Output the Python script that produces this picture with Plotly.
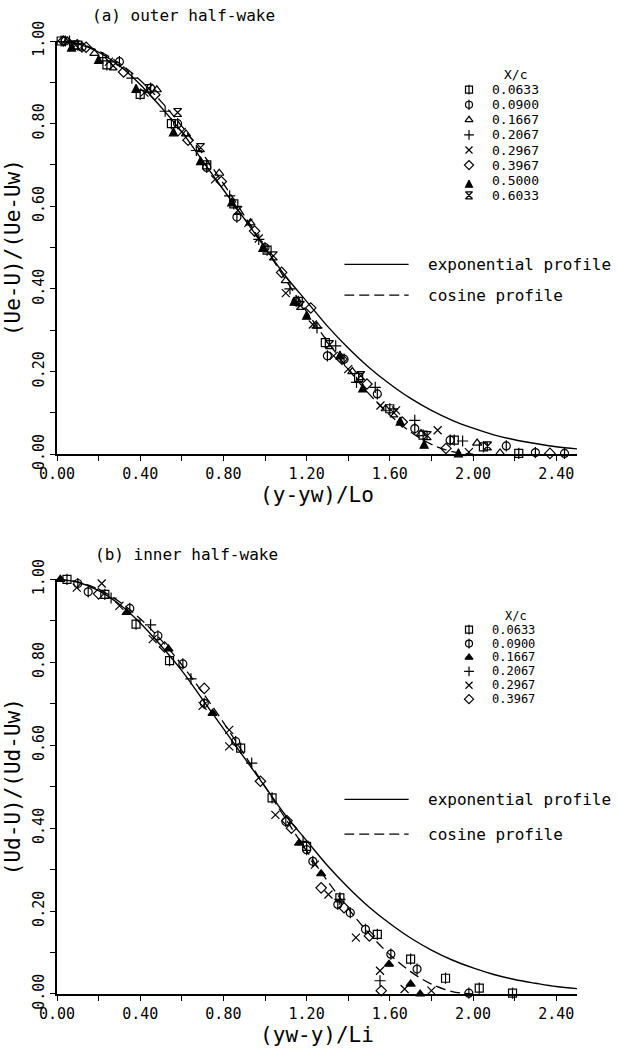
import plotly.graph_objects as go

# ---------------- data ----------------
# model profiles
ETA_EXP = [0.0, 0.1, 0.2, 0.3, 0.4, 0.5, 0.6, 0.7, 0.8, 0.9, 1.0, 1.1, 1.2, 1.3,
           1.4, 1.5, 1.6, 1.7, 1.8, 1.9, 2.0, 2.1, 2.2, 2.3, 2.4, 2.5]
EXP_PROFILE = [1.00, 0.993, 0.973, 0.94, 0.895, 0.84, 0.78, 0.71, 0.64, 0.57, 0.50,
               0.43, 0.37, 0.31, 0.257, 0.21, 0.17, 0.135, 0.106, 0.082, 0.063,
               0.047, 0.035, 0.026, 0.018, 0.013]
ETA_COS = [0.0, 0.1, 0.2, 0.3, 0.4, 0.5, 0.6, 0.7, 0.8, 0.9, 1.0, 1.1, 1.2, 1.3,
           1.4, 1.5, 1.6, 1.7, 1.8, 1.9, 2.0]
COS_PROFILE = [1.0, 0.994, 0.976, 0.946, 0.905, 0.854, 0.794, 0.727, 0.655, 0.578,
               0.50, 0.422, 0.345, 0.273, 0.206, 0.146, 0.095, 0.054, 0.024, 0.006, 0.0]

# (a) outer half-wake
A_LABELS = ["0.0633", "0.0900", "0.1667", "0.2067", "0.2967", "0.3967", "0.5000", "0.6033"]
A_0633_X = [0.02, 0.10, 0.24, 0.40, 0.55, 0.72, 0.85, 1.01, 1.16, 1.29, 1.45, 1.60, 1.76, 1.91, 2.05, 2.22]
A_0633_Y = [1.00, 0.99, 0.942, 0.871, 0.80, 0.70, 0.606, 0.494, 0.37, 0.27, 0.186, 0.11, 0.046, 0.034, 0.018, 0.002]
A_0900_X = [0.04, 0.12, 0.30, 0.45, 0.58, 0.72, 0.865, 1.00, 1.15, 1.30, 1.38, 1.54, 1.72, 1.89, 2.16, 2.30, 2.44]
A_0900_Y = [1.0, 0.985, 0.95, 0.886, 0.80, 0.694, 0.574, 0.50, 0.37, 0.238, 0.23, 0.146, 0.062, 0.034, 0.02, 0.004, 0.002]
A_1667_X = [0.05, 0.18, 0.48, 0.62, 0.78, 0.93, 1.10, 1.25, 1.42, 1.58, 1.75, 2.02, 2.13]
A_1667_Y = [1.0, 0.97, 0.882, 0.775, 0.68, 0.56, 0.42, 0.31, 0.20, 0.11, 0.05, 0.027, 0.003]
A_2067_X = [0.06, 0.22, 0.36, 0.52, 0.67, 0.83, 0.97, 1.12, 1.25, 1.34, 1.44, 1.53, 1.72, 1.95]
A_2067_Y = [1.0, 0.96, 0.91, 0.83, 0.735, 0.625, 0.52, 0.40, 0.306, 0.262, 0.174, 0.162, 0.082, 0.032]
A_2967_X = [0.08, 0.25, 0.42, 0.60, 0.76, 0.92, 0.97, 1.10, 1.23, 1.33, 1.40, 1.555, 1.63, 1.83, 1.98]
A_2967_Y = [0.995, 0.95, 0.875, 0.78, 0.665, 0.56, 0.522, 0.39, 0.314, 0.238, 0.206, 0.118, 0.106, 0.058, 0.005]
A_3967_X = [0.03, 0.14, 0.32, 0.47, 0.63, 0.79, 0.95, 1.08, 1.22, 1.37, 1.49, 1.66, 1.87, 2.37]
A_3967_Y = [1.0, 0.985, 0.925, 0.87, 0.76, 0.66, 0.54, 0.44, 0.354, 0.23, 0.17, 0.078, 0.014, 0.002]
A_5000_X = [0.07, 0.20, 0.38, 0.56, 0.69, 0.84, 0.99, 1.14, 1.20, 1.36, 1.47, 1.65, 1.765, 1.93]
A_5000_Y = [0.995, 0.965, 0.895, 0.79, 0.72, 0.62, 0.51, 0.38, 0.346, 0.25, 0.17, 0.09, 0.034, 0.013]
A_6033_X = [0.09, 0.27, 0.44, 0.58, 0.69, 0.87, 1.04, 1.17, 1.31, 1.46, 1.62, 1.78, 2.07]
A_6033_Y = [0.99, 0.94, 0.885, 0.827, 0.742, 0.59, 0.48, 0.36, 0.265, 0.19, 0.10, 0.045, 0.02]

# (b) inner half-wake
B_LABELS = ["0.0633", "0.0900", "0.1667", "0.2067", "0.2967", "0.3967"]
B_0633_X = [0.048, 0.23, 0.38, 0.541, 0.883, 1.034, 1.20, 1.36, 1.54, 1.70, 1.868, 2.03, 2.19]
B_0633_Y = [1.0, 0.964, 0.892, 0.804, 0.593, 0.473, 0.356, 0.232, 0.144, 0.084, 0.038, 0.014, 0.002]
B_0900_X = [0.10, 0.15, 0.35, 0.485, 0.605, 0.708, 0.859, 1.10, 1.20, 1.23, 1.35, 1.41, 1.483, 1.605, 1.731, 1.98]
B_0900_Y = [0.99, 0.97, 0.93, 0.864, 0.796, 0.701, 0.609, 0.416, 0.348, 0.32, 0.216, 0.196, 0.156, 0.096, 0.06, 0.002]
B_1667_X = [0.016, 0.335, 0.536, 0.748, 1.164, 1.27, 1.596, 1.70, 1.746]
B_1667_Y = [1.0, 0.92, 0.832, 0.677, 0.364, 0.29, 0.072, 0.024, 0.0]
B_2067_X = [0.26, 0.45, 0.644, 0.936, 1.183, 1.36, 1.553]
B_2067_Y = [0.955, 0.89, 0.76, 0.557, 0.368, 0.228, 0.032]
B_2967_X = [0.095, 0.215, 0.30, 0.46, 0.70, 0.828, 0.828, 1.05, 1.24, 1.305, 1.437, 1.553, 1.671, 1.80]
B_2967_Y = [0.98, 0.99, 0.936, 0.856, 0.695, 0.637, 0.597, 0.432, 0.312, 0.24, 0.136, 0.056, 0.012, 0.008]
B_3967_X = [0.20, 0.517, 0.708, 0.978, 1.106, 1.127, 1.27, 1.38, 1.502, 1.559]
B_3967_Y = [0.965, 0.837, 0.737, 0.513, 0.418, 0.40, 0.256, 0.208, 0.14, 0.008]

X_TICKS = [0.0, 0.4, 0.8, 1.2, 1.6, 2.0, 2.4]
Y_TICKS = [0.0, 0.2, 0.4, 0.6, 0.8, 1.0]
PROFILE_NAMES = ["exponential profile", "cosine profile"]

# ---------------- styling ----------------
MONO = "DejaVu Sans Mono"
BLACK = "black"

A_SYMBOLS = [["square-open", "line-ns-open"], ["circle-open", "line-ns-open"],
             ["triangle-up-open"], ["cross-thin-open"], ["x-thin-open"],
             ["diamond-open"], ["arrow-up"], ["hourglass-open"]]
B_SYMBOLS = [["square-open", "line-ns-open"], ["circle-open", "line-ns-open"],
             ["triangle-up"], ["cross-thin-open"], ["x-thin-open"], ["diamond-open"]]

A_DATA = [(A_0633_X, A_0633_Y), (A_0900_X, A_0900_Y), (A_1667_X, A_1667_Y),
          (A_2067_X, A_2067_Y), (A_2967_X, A_2967_Y), (A_3967_X, A_3967_Y),
          (A_5000_X, A_5000_Y), (A_6033_X, A_6033_Y)]
B_DATA = [(B_0633_X, B_0633_Y), (B_0900_X, B_0900_Y), (B_1667_X, B_1667_Y),
          (B_2067_X, B_2067_Y), (B_2967_X, B_2967_Y), (B_3967_X, B_3967_Y)]

fig = go.Figure()


def marker(sym, size=8):
    return dict(symbol=sym, size=size, color=BLACK,
                line=dict(color=BLACK, width=1.2))


def add_panel(xa, ya, data, symbols):
    # model curves
    fig.add_trace(go.Scatter(x=ETA_EXP, y=EXP_PROFILE, mode="lines",
                             line=dict(color=BLACK, width=1.4, shape="spline"),
                             xaxis=xa, yaxis=ya, showlegend=False, cliponaxis=False))
    fig.add_trace(go.Scatter(x=ETA_COS, y=COS_PROFILE, mode="lines",
                             line=dict(color=BLACK, width=1.3, dash="10px,5px", shape="spline"),
                             xaxis=xa, yaxis=ya, showlegend=False, cliponaxis=False))
    for (xs, ys), syms in zip(data, symbols):
        for s in syms:
            fig.add_trace(go.Scatter(x=xs, y=ys, mode="markers", marker=marker(s),
                                     xaxis=xa, yaxis=ya, showlegend=False,
                                     cliponaxis=False))


add_panel("x", "y", A_DATA, A_SYMBOLS)
add_panel("x2", "y2", B_DATA, B_SYMBOLS)


def add_symbol_legend(xa, ya, labels, symbols, fsize):
    rows = list(range(len(labels)))
    for i, syms in enumerate(symbols):
        for s in syms:
            fig.add_trace(go.Scatter(x=[0.08], y=[rows[i]], mode="markers",
                                     marker=marker(s, 7), xaxis=xa, yaxis=ya,
                                     showlegend=False, cliponaxis=False))
    for i, lab in enumerate(labels):
        fig.add_annotation(x=0.30, y=rows[i], xref=xa, yref=ya, text=lab,
                           showarrow=False, xanchor="left", yanchor="middle",
                           borderpad=0,
                           font=dict(family=MONO, size=fsize, color=BLACK))
    fig.add_annotation(x=0.55, y=-1.0, xref=xa, yref=ya, text="X/c",
                       showarrow=False, xanchor="center", yanchor="middle",
                       borderpad=0,
                       font=dict(family=MONO, size=fsize, color=BLACK))


def add_line_legend(xa, ya):
    fig.add_trace(go.Scatter(x=[0, 1], y=[0, 0], mode="lines",
                             line=dict(color=BLACK, width=1.4), xaxis=xa, yaxis=ya,
                             showlegend=False, cliponaxis=False))
    fig.add_trace(go.Scatter(x=[0, 1], y=[1, 1], mode="lines",
                             line=dict(color=BLACK, width=1.3, dash="10px,5px"),
                             xaxis=xa, yaxis=ya, showlegend=False, cliponaxis=False))
    for r, txt in enumerate(PROFILE_NAMES):
        fig.add_annotation(x=1.28, y=r, xref=xa, yref=ya, text=txt, showarrow=False,
                           xanchor="left", yanchor="middle", borderpad=0,
                           font=dict(family=MONO, size=16, color=BLACK))


add_symbol_legend("x3", "y3", A_LABELS, A_SYMBOLS, 13)
add_symbol_legend("x4", "y4", B_LABELS, B_SYMBOLS, 12)
add_line_legend("x5", "y5")
add_line_legend("x6", "y6")

tickfont = dict(family=MONO, size=15, color=BLACK)
titlefont = dict(family=MONO, size=21, color=BLACK)


def xaxis_cfg(anchor, title):
    return dict(domain=[0, 1], anchor=anchor, range=[0, 2.5], tickmode="array",
                tickvals=X_TICKS, ticktext=[f"{v:.2f}" for v in X_TICKS],
                ticks="outside", ticklen=5, tickwidth=1.4, tickcolor=BLACK,
                minor=dict(tickmode="array", tickvals=[0.2, 0.6, 1.0, 1.4, 1.8, 2.2],
                           ticks="outside", ticklen=5, tickwidth=1.4, tickcolor=BLACK),
                showline=True, linecolor=BLACK, linewidth=1.5, showgrid=False,
                zeroline=False, tickfont=tickfont,
                title=dict(text=title, font=titlefont, standoff=2))


def yaxis_cfg(anchor, domain, title):
    return dict(domain=domain, anchor=anchor, range=[0, 1.0], tickmode="array",
                tickvals=Y_TICKS, ticktext=[f"{v:.2f}" for v in Y_TICKS],
                ticks="outside", ticklen=5, tickwidth=1.4, tickcolor=BLACK,
                tickangle=-90,
                minor=dict(tickmode="array", tickvals=[0.1, 0.3, 0.5, 0.7, 0.9],
                           ticks="outside", ticklen=5, tickwidth=1.4, tickcolor=BLACK),
                showline=True, linecolor=BLACK, linewidth=1.5, showgrid=False,
                zeroline=False, tickfont=tickfont,
                title=dict(text=title, font=titlefont, standoff=4))


def hidden(domain, rng, anchor):
    return dict(domain=domain, range=rng, anchor=anchor, visible=False,
                showgrid=False, zeroline=False, fixedrange=True)


fig.update_layout(
    width=618, height=1051,
    margin=dict(l=52, r=41, t=41, b=50),
    paper_bgcolor="white", plot_bgcolor="rgba(0,0,0,0)",
    font=dict(family=MONO, color=BLACK),
    showlegend=False,
    xaxis=xaxis_cfg("y", "(y-yw)/Lo"),
    yaxis=yaxis_cfg("x", [0.5664, 1.0], "(Ue-U)/(Ue-Uw)"),
    xaxis2=xaxis_cfg("y2", "(yw-y)/Li"),
    yaxis2=yaxis_cfg("x2", [0.0, 0.4351], "(Ud-U)/(Ud-Uw)"),
    xaxis3=hidden([0.7771, 0.9676], [0, 1], "y3"),
    yaxis3=hidden([0.8302, 0.9727], [7.5, -1.5], "x3"),
    xaxis4=hidden([0.7771, 0.9676], [0, 1], "y4"),
    yaxis4=hidden([0.3021, 0.4042], [5.5, -1.5], "x4"),
    xaxis5=hidden([0.5524, 0.7257], [0, 1.4], "y5"),
    yaxis5=hidden([0.7172, 0.7818], [1.5, -0.5], "x5"),
    xaxis6=hidden([0.5524, 0.7257], [0, 1.4], "y6"),
    yaxis6=hidden([0.1495, 0.2224], [1.5, -0.5], "x6"),
)

fig.add_annotation(x=0.066, y=1.027, xref="paper", yref="paper",
                   text="(a) outer half-wake", showarrow=False, xanchor="left",
                   yanchor="middle", borderpad=0,
                   font=dict(family=MONO, size=16, color=BLACK))
fig.add_annotation(x=0.071, y=0.4615, xref="paper", yref="paper",
                   text="(b) inner half-wake", showarrow=False, xanchor="left",
                   yanchor="middle", borderpad=0,
                   font=dict(family=MONO, size=16, color=BLACK))

fig.write_html("out.html")
